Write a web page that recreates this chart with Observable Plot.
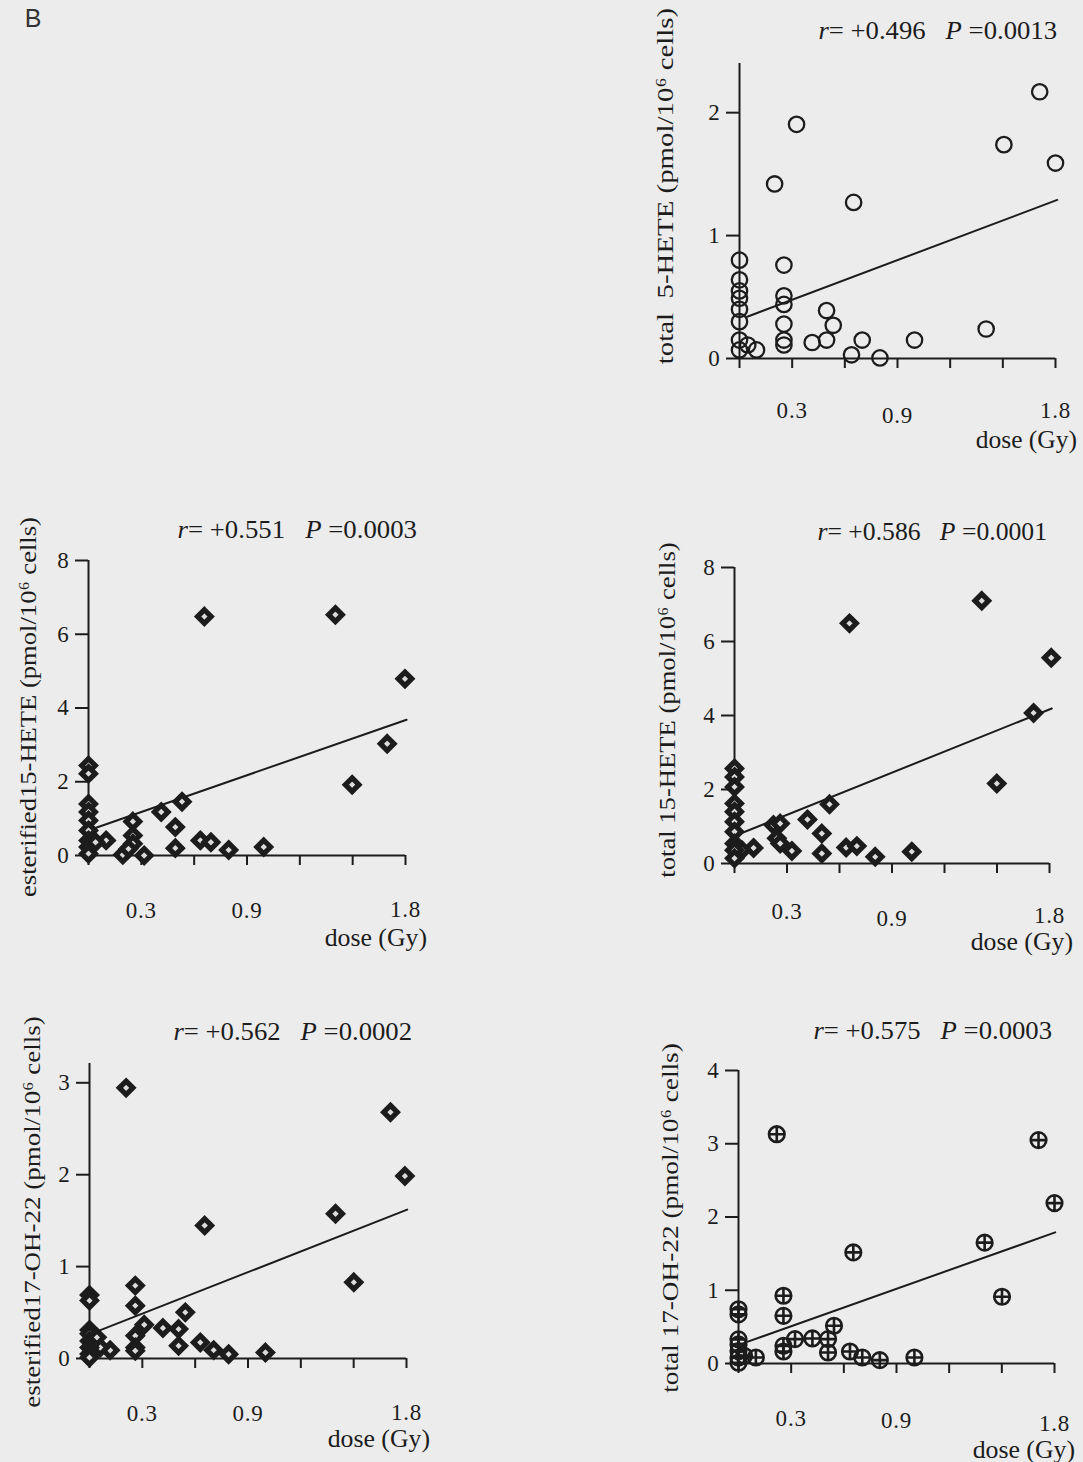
<!DOCTYPE html>
<html><head><meta charset="utf-8">
<script src="https://cdn.jsdelivr.net/npm/d3@7"></script>
<script src="https://cdn.jsdelivr.net/npm/@observablehq/plot@0.6"></script>
<style>
html,body{margin:0;padding:0;background:#ececec;}
#page{position:relative;width:1083px;height:1462px;background:#ececec;font-family:"Liberation Serif","DejaVu Serif",serif;color:#1c1c1c;overflow:hidden}
.t{position:absolute;white-space:pre;line-height:1;}
.title{font-size:25px;transform-origin:100% 50%;}
.dose{font-size:25px;transform-origin:100% 50%;}
.ylab{font-size:24px;transform-origin:50% 50%;}
.letter{font-family:"Liberation Sans",sans-serif;font-size:25px;color:#333;}
</style>
</head><body>
<div id="page"></div>
<script>
// ---------- data ----------
const xTicks = [0, 0.3, 0.6, 0.9, 1.2, 1.5, 1.8];
const xTickLabels = [0.3, 0.9, 1.8];

// Panel 1: total 5-HETE
const p1Dose  = [1.71, 0.325, 1.506, 1.80, 0.20, 0.65, 0, 0.253, 0, 0, 0, 0, 0, 0, 0, 0.253, 0.253, 0.253, 0.253, 0.253, 0.496, 0.534, 0.496, 0.414, 0.699, 0.638, 0.80, 0.997, 1.405, 0.047, 0.097];
const p1Value = [2.17, 1.905, 1.74, 1.59, 1.42, 1.27, 0.80, 0.76, 0.64, 0.55, 0.49, 0.40, 0.30, 0.15, 0.07, 0.51, 0.44, 0.28, 0.15, 0.11, 0.39, 0.27, 0.15, 0.13, 0.15, 0.03, 0.005, 0.15, 0.24, 0.11, 0.07];
const p1FitDose = [0.044, 1.81], p1FitValue = [0.34, 1.29];
const p1YTicks = [0, 1, 2];

// Panel 2: esterified 15-HETE
const p2Dose  = [0.658, 1.402, 1.797, 1.696, 1.497, 0.531, 0.413, 0.252, 0.493, 0.635, 0.695, 0.493, 0.796, 0.995, 0.100, 0.195, 0.316, 0.252, 0.252, 0.227, 0, 0, 0, 0, 0, 0, 0, 0, 0, 0.04];
const p2Value = [6.48, 6.53, 4.79, 3.03, 1.92, 1.46, 1.18, 0.92, 0.77, 0.41, 0.36, 0.20, 0.15, 0.23, 0.41, 0.02, 0.0, 0.54, 0.32, 0.18, 2.44, 2.22, 1.40, 1.18, 0.95, 0.68, 0.41, 0.23, 0.05, 0.36];
const p2FitDose = [0.01, 1.806], p2FitValue = [0.70, 3.68];
const p2YTicks = [0, 2, 4, 6, 8];

// Panel 3: total 15-HETE
const p3Dose  = [0.657, 1.413, 1.81, 1.709, 1.499, 0.543, 0.417, 0.223, 0.261, 0.499, 0.242, 0.261, 0.328, 0.499, 0.638, 0.699, 0.804, 1.013, 0.109, 0.042, 0, 0, 0, 0, 0, 0, 0, 0, 0, 0];
const p3Value = [6.49, 7.10, 5.56, 4.07, 2.16, 1.60, 1.19, 1.04, 1.08, 0.81, 0.68, 0.54, 0.34, 0.27, 0.43, 0.47, 0.18, 0.32, 0.42, 0.36, 2.57, 2.34, 2.07, 1.62, 1.40, 1.13, 0.86, 0.54, 0.36, 0.14];
const p3FitDose = [0.013, 1.813], p3FitValue = [0.77, 4.19];
const p3YTicks = [0, 2, 4, 6, 8];

// Panel 4: esterified 17-OH-22
const p4Dose  = [0.208, 1.709, 1.791, 1.397, 0.654, 1.501, 0.26, 0.26, 0.544, 0.311, 0.417, 0.506, 0.26, 0.506, 0.629, 0.705, 0.79, 0.999, 0.26, 0.26, 0.117, 0.061, 0, 0, 0, 0, 0, 0, 0, 0, 0.042];
const p4Value = [2.945, 2.68, 1.985, 1.575, 1.447, 0.829, 0.793, 0.575, 0.502, 0.367, 0.331, 0.32, 0.247, 0.138, 0.175, 0.091, 0.047, 0.065, 0.12, 0.084, 0.09, 0.12, 0.69, 0.63, 0.31, 0.27, 0.19, 0.12, 0.05, 0.01, 0.23];
const p4FitDose = [0.004, 1.804], p4FitValue = [0.265, 1.62];
const p4YTicks = [0, 1, 2, 3];

// Panel 5: total 17-OH-22
const p5Dose  = [0.218, 1.709, 1.80, 1.402, 0.654, 1.501, 0.256, 0.256, 0.544, 0.322, 0.421, 0.51, 0.256, 0.51, 0.256, 0.635, 0.705, 0.805, 1.002, 0.099, 0.032, 0, 0, 0, 0, 0, 0, 0];
const p5Value = [3.13, 3.05, 2.19, 1.65, 1.517, 0.911, 0.925, 0.651, 0.515, 0.333, 0.342, 0.333, 0.241, 0.15, 0.164, 0.164, 0.082, 0.046, 0.082, 0.082, 0.105, 0.74, 0.67, 0.33, 0.26, 0.17, 0.08, 0.01];
const p5FitDose = [0.013, 1.804], p5FitValue = [0.264, 1.79];
const p5YTicks = [0, 1, 2, 3, 4];

const titles = [
  ["+0.496", "0.0013"], ["+0.551", "0.0003"], ["+0.586", "0.0001"], ["+0.562", "0.0002"], ["+0.575", "0.0003"]
];
const yLabels = [
  "total  5-HETE (pmol/10\u2076 cells)",
  "esterified15-HETE (pmol/10\u2076 cells)",
  "total 15-HETE (pmol/10\u2076 cells)",
  "esterified17-OH-22 (pmol/10\u2076 cells)",
  "total 17-OH-22 (pmol/10\u2076 cells)"
];
const xLabel = "dose (Gy)";

// ---------- styles / layout ----------
const ink = "#1c1c1c";
const circleSym = {draw(ctx, size){ const r = Math.sqrt(size/Math.PI); ctx.moveTo(r,0); ctx.arc(0,0,r,0,2*Math.PI); }};
const diamondSym = {draw(ctx, size){ const r = Math.sqrt(size/Math.PI); ctx.moveTo(0,-r); ctx.lineTo(r,0); ctx.lineTo(0,r); ctx.lineTo(-r,0); ctx.closePath(); }};
const circlePlusSym = {draw(ctx, size){ const r = Math.sqrt(size/Math.PI); ctx.moveTo(r,0); ctx.arc(0,0,r,0,2*Math.PI); ctx.moveTo(-r,0); ctx.lineTo(r,0); ctx.moveTo(0,-r); ctx.lineTo(0,r); }};
const markers = {
  circle: {symbol: circleSym, r: 7.7, stroke: ink, strokeWidth: 2.3, fill: "none"},
  diamond: {symbol: diamondSym, r: 6.8, stroke: ink, strokeWidth: 5.2, fill: "#dcdcdc"},
  circlePlus: {symbol: circlePlusSym, r: 7.8, stroke: ink, strokeWidth: 2.6, fill: "none"}
};

const panels = [
  {xs: p1Dose, ys: p1Value, fd: p1FitDose, fv: p1FitValue, yTicks: p1YTicks, yTop: 2.4, marker: "circle",
   axisX: 739, x18: 1055, y0: 358, yTopPx: 63, pads: [43, 48, 43],
   title: [1057, 30, 239], ylab: [665, 186, 356], doseLab: [1077, 439, 101]},
  {xs: p2Dose, ys: p2Value, fd: p2FitDose, fv: p2FitValue, yTicks: p2YTicks, yTop: 8, marker: "diamond",
   axisX: 88, x18: 405, y0: 855, yTopPx: 560, pads: [46, 46, 45],
   title: [417, 529, 240], ylab: [28, 707, 380], doseLab: [427, 937, 102]},
  {xs: p3Dose, ys: p3Value, fd: p3FitDose, fv: p3FitValue, yTicks: p3YTicks, yTop: 8, marker: "diamond",
   axisX: 734, x18: 1049, y0: 863, yTopPx: 567, pads: [39, 46, 43],
   title: [1047, 531, 230], ylab: [667, 710, 335], doseLab: [1073, 941, 102]},
  {xs: p4Dose, ys: p4Value, fd: p4FitDose, fv: p4FitValue, yTicks: p4YTicks, yTop: 3.21, marker: "diamond",
   axisX: 89, x18: 406, y0: 1358, yTopPx: 1063, pads: [46, 46, 45],
   title: [412, 1031, 239], ylab: [32, 1212, 391], doseLab: [430, 1438, 102]},
  {xs: p5Dose, ys: p5Value, fd: p5FitDose, fv: p5FitValue, yTicks: p5YTicks, yTop: 4, marker: "circlePlus",
   axisX: 738, x18: 1054, y0: 1363, yTopPx: 1070, pads: [46, 48, 51],
   title: [1052, 1030, 239], ylab: [670, 1218, 350], doseLab: [1075, 1449, 102]}
];

const page = document.getElementById("page");
// anchor: "right" (x = right edge) or "center"; target = desired text length in px
function addText(cls, x, y, html, anchor, target, rotate) {
  const d = document.createElement("div");
  d.className = "t " + cls;
  d.style.left = x + "px"; d.style.top = y + "px";
  d.innerHTML = html;
  page.appendChild(d);
  const s = target ? target / d.offsetWidth : 1;
  const tr = anchor === "right" ? "translate(-100%,-50%)" : "translate(-50%,-50%)";
  d.style.transform = `${tr}${rotate ? " rotate(-90deg)" : ""} scaleX(${s})`;
}
addText("letter", 33, 18, "B");

const ML = 80, MR = 40, MT = 30, MB = 110;
panels.forEach((p, k) => {
  const data = p.xs.map((d, i) => ({dose: d, value: p.ys[i]}));
  const fit = p.fd.map((d, i) => ({dose: d, value: p.fv[i]}));
  const left = p.axisX - ML, top = p.yTopPx - MT;
  const W = p.x18 - left + MR, H = p.y0 + MB - top;
  const labelAxis = (v, pad) => Plot.axisX({ticks: [v], tickSize: 0, tickPadding: pad, tickFormat: d => String(d), fill: ink});
  const svg = Plot.plot({
    width: W, height: H,
    marginLeft: ML, marginRight: MR, marginTop: MT, marginBottom: MB,
    x: {domain: [0, 1.8], label: null},
    y: {domain: [0, p.yTop], label: null},
    style: {fontFamily: "'Liberation Serif', serif", fontSize: "23px", letterSpacing: "0.8px", color: ink, background: "transparent", overflow: "visible"},
    marks: [
      Plot.axisY({ticks: p.yTicks, tickSize: 13, tickPadding: 6, strokeWidth: 2, stroke: ink, fill: ink, tickFormat: d => String(d), label: null}),
      Plot.axisX({ticks: xTicks, tickSize: 10, strokeWidth: 2, stroke: ink, tickFormat: () => "", label: null}),
      labelAxis(xTickLabels[0], p.pads[0]),
      labelAxis(xTickLabels[1], p.pads[1]),
      labelAxis(xTickLabels[2], p.pads[2]),
      Plot.ruleX([0], {y1: 0, y2: p.yTop, stroke: ink, strokeWidth: 2}),
      Plot.ruleY([0], {x1: 0, x2: 1.8, stroke: ink, strokeWidth: 2}),
      Plot.line(fit, {x: "dose", y: "value", stroke: ink, strokeWidth: 2}),
      Plot.dot(data, {x: "dose", y: "value", ...markers[p.marker]})
    ]
  });
  svg.style.position = "absolute";
  svg.style.left = left + "px";
  svg.style.top = top + "px";
  svg.style.maxWidth = "none";
  page.appendChild(svg);
  addText("title", p.title[0], p.title[1], `<i>r</i>= ${titles[k][0]}&nbsp;&nbsp; <i>P</i> =${titles[k][1]}`, "right", p.title[2]);
  addText("ylab", p.ylab[0], p.ylab[1], yLabels[k], "center", p.ylab[2], true);
  addText("dose", p.doseLab[0], p.doseLab[1], xLabel, "right", p.doseLab[2]);
});
</script>
</body></html>
